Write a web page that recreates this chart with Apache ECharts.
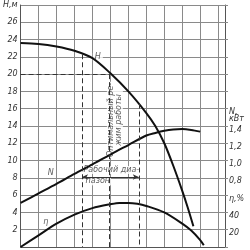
<!DOCTYPE html>
<html><head><meta charset="utf-8">
<script src="https://cdn.jsdelivr.net/npm/echarts@6/dist/echarts.min.js"></script>
<style>html,body{margin:0;padding:0;background:#fff}#c{width:250px;height:250px}</style>
</head><body><div id="c"></div>
<script>
// Head H, m
const hQ   = [0, 1, 2, 3, 4, 5, 6, 7, 7.5, 8, 8.5, 9, 9.3, 9.62];
const hVal = [23.6, 23.5, 23.2, 22.7, 21.85, 20.1, 18.0, 15.5, 14.0, 12.0, 9.4, 6.5, 4.6, 2.4];
// Power N, kW
const nQ   = [0, 1, 2, 3, 4, 5, 6, 7, 7.5, 8, 8.5, 9, 9.5, 10];
const nVal = [0.51, 0.62, 0.73, 0.845, 0.955, 1.07, 1.18, 1.29, 1.32, 1.345, 1.36, 1.365, 1.355, 1.335];
// Efficiency eta, %
const etaQ   = [0, 1, 2, 3, 4, 5, 5.5, 6, 6.5, 7, 8, 9, 9.5, 10, 10.2];
const etaVal = [0, 13.5, 27, 37.5, 45, 49.5, 51, 51, 50, 47.5, 40, 27, 19, 8, 2];
// Operating points
const optimumQ = 4.95, optimumH = 20;
const rangeQ = [3.42, 6.58];
const rangeTopH = [22.3, 16.6];
const rangeArrowH = 8.1;
// Tick labels
const leftLabels = {28: 'H,м', 26: '26', 24: '24', 22: '22', 20: '20', 18: '18', 16: '16', 14: '14', 12: '12', 10: '10', 8: '8', 6: '6', 4: '4', 2: '2'};
const rightLabels = {16: 'N,\nкВт', 14: '1,4', 12: '1,2', 10: '1,0', 8: '0,8', 6: 'η,%', 4: '40', 2: '20'};

const zip = (a, b) => a.map((v, i) => [v, b[i]]);
const font = {fontFamily: 'DejaVu Sans', fontStyle: 'italic', fontSize: 8, color: '#333'};
const gridColor = '#8a8a8a';

const chart = echarts.init(document.getElementById('c'), null, {renderer: 'canvas'});
chart.setOption({
  animation: false,
  backgroundColor: '#fff',
  grid: {left: 16, right: 25, top: 5, bottom: 3, containLabel: false},
  xAxis: {type: 'value', min: 0, max: 11.38, interval: 1,
    axisLabel: {show: false}, axisTick: {show: false},
    axisLine: {show: true, lineStyle: {color: '#555', width: 1}},
    splitLine: {show: true, lineStyle: {color: gridColor, width: 1}}},
  yAxis: [
    {type: 'value', min: 0, max: 28, interval: 2, position: 'left',
      axisLine: {show: true, lineStyle: {color: '#555', width: 1}},
      axisTick: {show: false},
      splitLine: {show: true, lineStyle: {color: gridColor, width: 1}},
      axisLabel: Object.assign({margin: 3, formatter: v => leftLabels[Math.round(v)] || ''}, font)},
    {type: 'value', min: 0, max: 2.8, interval: 0.2, position: 'right',
      axisLine: {show: true, lineStyle: {color: '#555', width: 1}},
      axisTick: {show: true, length: 3, lineStyle: {color: gridColor}},
      splitLine: {show: false},
      axisLabel: Object.assign({margin: 4, verticalAlign: 'top', lineHeight: 7, align: 'left',
        formatter: v => rightLabels[Math.round(v * 10)] || ''}, font)},
    {type: 'value', min: 0, max: 280, show: false}
  ],
  series: [
    {type: 'line', name: 'H', data: zip(hQ, hVal), yAxisIndex: 0, smooth: 0.3, symbol: 'none',
      lineStyle: {color: '#111', width: 2},
      markLine: {silent: true, symbol: 'none', label: {show: false},
        lineStyle: {color: '#333', width: 1, type: [5, 3]},
        data: [
          [{coord: [0, optimumH]}, {coord: [optimumQ, optimumH]}],
          [{coord: [optimumQ, optimumH]}, {coord: [optimumQ, 0]}],
          [{coord: [rangeQ[0], rangeTopH[0]]}, {coord: [rangeQ[0], 0]}],
          [{coord: [rangeQ[1], rangeTopH[1]]}, {coord: [rangeQ[1], 0]}]
        ]}},
    {type: 'line', name: 'N', data: zip(nQ, nVal), yAxisIndex: 1, smooth: 0.3, symbol: 'none',
      lineStyle: {color: '#111', width: 2}},
    {type: 'line', name: 'eta', data: zip(etaQ, etaVal), yAxisIndex: 2, smooth: 0.3, symbol: 'none',
      lineStyle: {color: '#111', width: 2}},
    {type: 'line', name: 'range', data: [], yAxisIndex: 0,
      markLine: {silent: true, symbol: ['arrow', 'arrow'], symbolSize: [4, 6], label: {show: false},
        lineStyle: {color: '#333', width: 1, type: 'solid'},
        data: [[{coord: [rangeQ[0], rangeArrowH]}, {coord: [rangeQ[1], rangeArrowH]}]]}},
    {type: 'scatter', yAxisIndex: 0, symbolSize: 0, silent: true,
      data: [
        {value: [4.3, 22], label: {formatter: 'H', backgroundColor: '#fff', padding: [0, 2]}},
        {value: [1.68, 8.6], label: {formatter: 'N'}},
        {value: [1.4, 2.9], label: {formatter: 'η', backgroundColor: '#fff', padding: [0, 1]}},
        {value: [5.05, 8.9], label: {formatter: 'Рабочий диа-', backgroundColor: '#fff', padding: [0, 1]}},
        {value: [4.3, 7.6], label: {formatter: 'пазон', backgroundColor: '#fff', padding: [0, 1]}},
        {value: [5.25, 14.7], label: {formatter: 'Оптимальный ре-\nжим работы', rotate: 90, lineHeight: 8, backgroundColor: '#fff', padding: [0, 1]}}
      ],
      label: Object.assign({show: true, position: 'inside'}, font)}
  ]
});
</script></body></html>
